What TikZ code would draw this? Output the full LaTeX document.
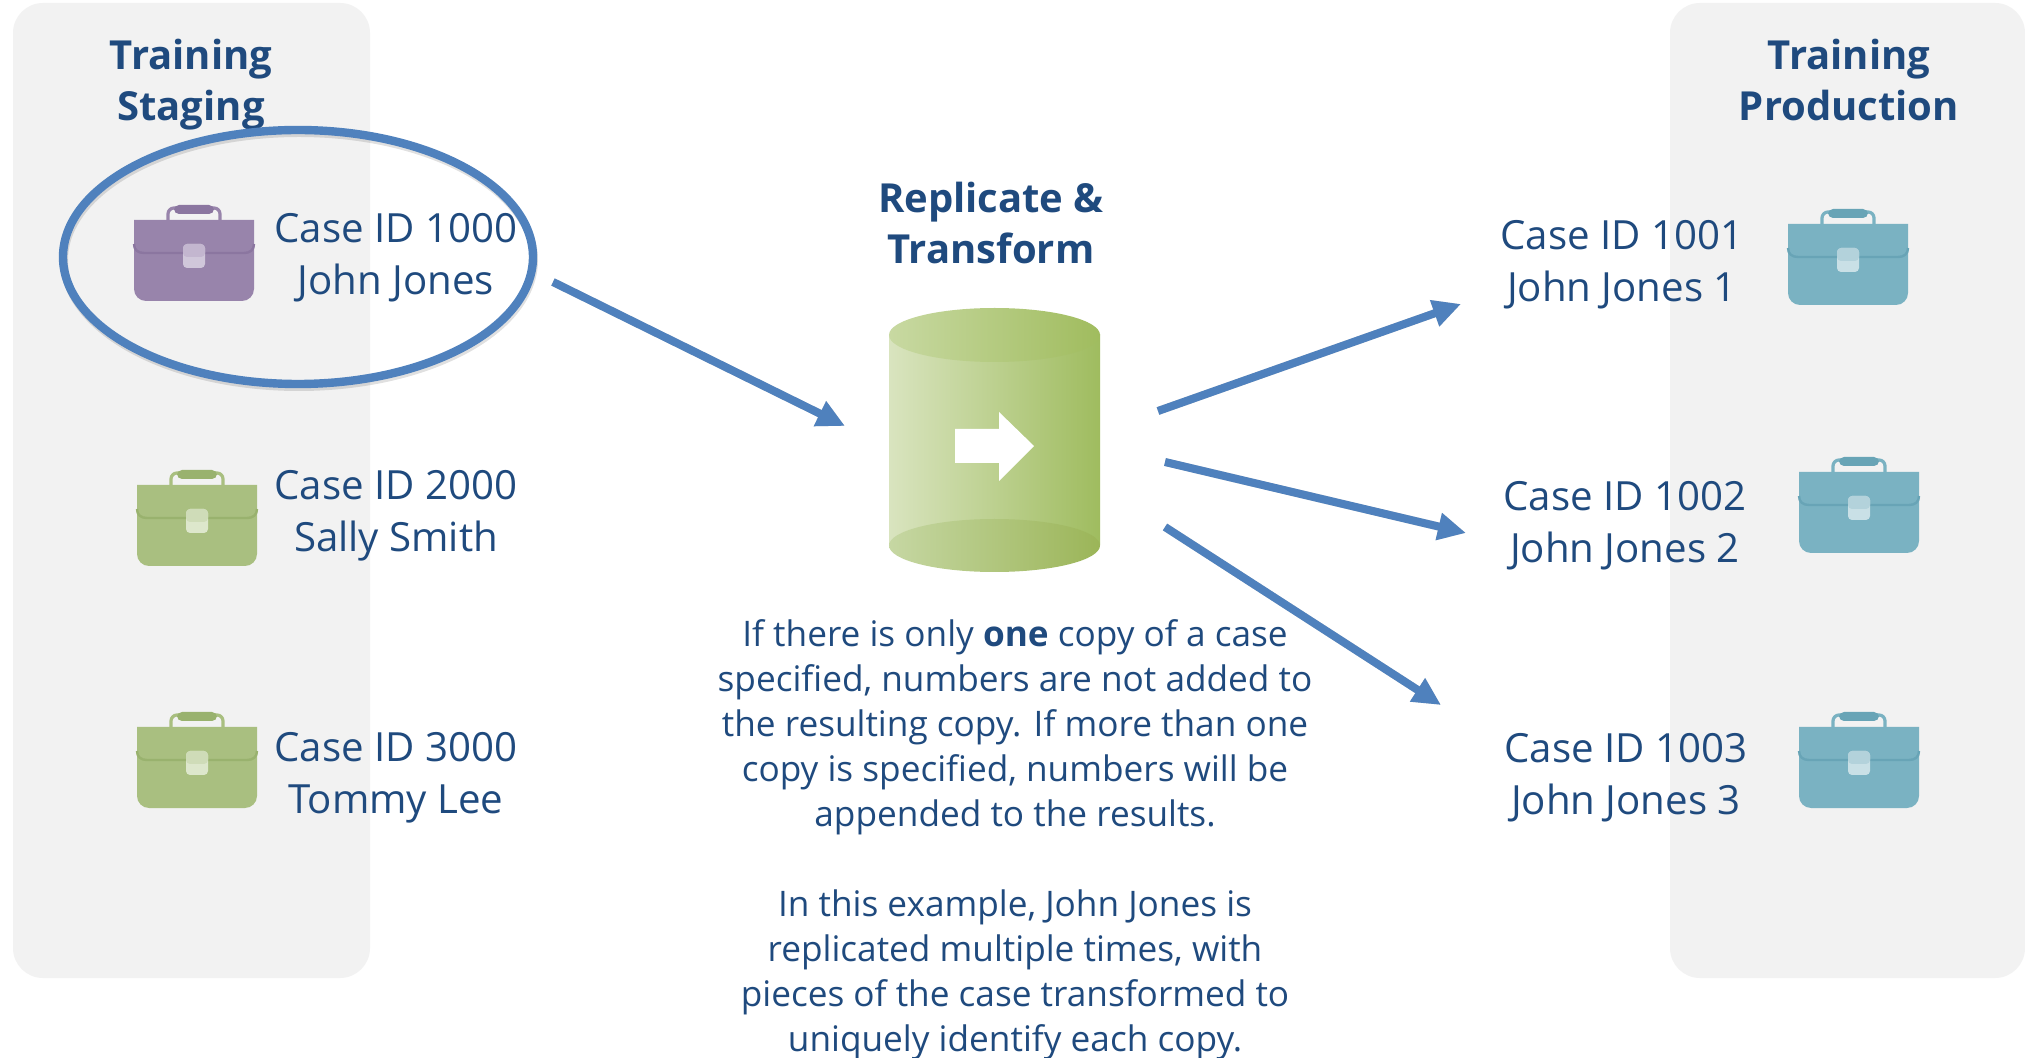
\documentclass[tikz,border=0pt]{standalone}
\usepackage{fontspec}
\setmainfont{Open Sans}
\usetikzlibrary{arrows.meta,shapes.geometric}
\definecolor{txt}{HTML}{1F4A7E}
\definecolor{panel}{HTML}{F2F2F2}
\definecolor{lineblue}{HTML}{4F81BD}
\definecolor{cylA}{HTML}{D9E4BF}\definecolor{cylB}{HTML}{9FBC5F}
\definecolor{cylC}{HTML}{C8D9A2}\definecolor{cylD}{HTML}{A0BC5E}
\definecolor{cylE}{HTML}{C6D7A3}\definecolor{cylF}{HTML}{9BB558}
\definecolor{teal}{HTML}{7AB2C2}\definecolor{teald}{HTML}{68A4B6}\definecolor{tealx}{HTML}{B3D2DB}\definecolor{tealy}{HTML}{C9E0E6}
\definecolor{purp}{HTML}{9884AB}\definecolor{purpd}{HTML}{8B76A0}\definecolor{purpx}{HTML}{C3B6CF}\definecolor{purpy}{HTML}{D0C7DA}
\definecolor{gren}{HTML}{A9BF80}\definecolor{grend}{HTML}{99B26E}\definecolor{grenx}{HTML}{CFDCB8}\definecolor{greny}{HTML}{DDE7CC}
\tikzset{
  caselabel/.style={text=txt,align=center,inner sep=0pt,font=\fontsize{20.1}{25.8}\selectfont},
  headlabel/.style={text=txt,align=center,inner sep=0pt,font=\fontsize{20}{25.5}\selectfont\bfseries},
  bodylabel/.style={text=txt,align=center,inner sep=0pt,font=\fontsize{17.6}{22.5}\selectfont},
  panelbox/.style={fill=panel,rounded corners=15pt},
  flow/.style={line width=4pt,color=lineblue,-{Triangle[length=14pt,width=13pt]}},
  flowshade/.style={line width=4pt,color=black,opacity=.16,-{Triangle[length=14pt,width=13pt]}},
}
% x, y of the body's top-left corner; the colour-name stem
\newcommand{\briefcaseicon}[3]{%
  \begin{scope}[shift={(#1,#2)}]
    \draw[#3,line width=1.6pt,rounded corners=3pt] (34,0) -- (34,-12) -- (86,-12) -- (86,0);
    \fill[#3d,rounded corners=2.5pt] (40,-15) rectangle (80,-6);
    \fill[#3] (0,0) -- (120,0) [rounded corners=6pt] -- (120,81) -- (0,81) [sharp corners] -- cycle;
    \draw[#3d,line width=1.2pt] (0,24) .. controls (0,30) and (4,33) .. (10,33) -- (110,33) .. controls (116,33) and (120,30) .. (120,24);
    \fill[#3y,rounded corners=2pt] (49,24) rectangle (71,48);
    \fill[#3x,rounded corners=2pt] (49,24) rectangle (71,37);
  \end{scope}}
\begin{document}
\begin{tikzpicture}[x=0.5pt,y=-0.5pt]
\useasboundingbox (0,0) rectangle (2025,1058);
\clip (0,0) rectangle (2025,1058);
\fill[white] (0,0) rectangle (2025,1058);
\fill[panelbox] (13,3) rectangle (370,978);
\fill[panelbox] (1670,3) rectangle (2025,978);

\node[headlabel] (tstaging) at (191,85) {Training\\Staging};
\node[headlabel] (tprod) at (1849,80) {Training\\Production};
\node[headlabel] (replicate) at (991,223) {Replicate \&\\Transform};

\briefcaseicon{134}{220}{purp}
\briefcaseicon{137}{485}{gren}
\briefcaseicon{137}{727}{gren}
\briefcaseicon{1788}{224}{teal}
\briefcaseicon{1799}{472}{teal}
\briefcaseicon{1799}{727}{teal}

\node[caselabel] (c1000) at (396,258) {Case ID 1000\\John Jones};
\node[caselabel] (c2000) at (396,516) {Case ID 2000\\Sally Smith};
\node[caselabel] (c3000) at (396,778) {Case ID 3000\\Tommy Lee};
\node[caselabel] (c1001) at (1622,265) {Case ID 1001\\John Jones 1};
\node[caselabel] (c1002) at (1625,526) {Case ID 1002\\John Jones 2};
\node[caselabel] (c1003) at (1626,778) {Case ID 1003\\John Jones 3};

% highlight ring
\node[ellipse,draw=black,opacity=.12,line width=4pt,minimum width=235pt,minimum height=127pt,inner sep=0pt] (ringshade) at (299,260) {};
\node[ellipse,draw=lineblue,line width=4.2pt,minimum width=235pt,minimum height=127pt,inner sep=0pt] (ring) at (298,257) {};

% cylinder
\shade[left color=cylA,right color=cylB] (889,335) rectangle (1100,545);
\node[ellipse,minimum width=105.5pt,minimum height=27pt,inner sep=0pt,shade,left color=cylC,right color=cylD] (cyltop) at (994.5,335) {};
\node[ellipse,minimum width=105.5pt,minimum height=26.5pt,inner sep=0pt,shade,left color=cylE,right color=cylF] (cylbot) at (994.5,545.5) {};
\fill[white] (955,429) -- (999,429) -- (999,412) -- (1034,446) -- (999,481) -- (999,463) -- (955,463) -- cycle;

\node[bodylabel] (para) at (1015,840) {If there is only \textbf{one} copy of a case\\specified, numbers are not added to\\the resulting copy. If more than one\\copy is specified, numbers will be\\appended to the results.\\[22.5pt]In this example, John Jones is\\replicated multiple times, with\\pieces of the case transformed to\\uniquely identify each copy.};

\coordinate (a0) at (553,282); \coordinate (a1) at (845,426);
\coordinate (b0) at (1158,411); \coordinate (b1) at (1461,304);
\coordinate (c0) at (1165,462); \coordinate (c1) at (1466,533);
\coordinate (d0) at (1165,527); \coordinate (d1) at (1441,705);
\begin{scope}[shift={(1.5,4)}]
\draw[flowshade] (a0) -- (a1);
\draw[flowshade] (b0) -- (b1);
\draw[flowshade] (c0) -- (c1);
\draw[flowshade] (d0) -- (d1);
\end{scope}
\draw[flow] (a0) -- (a1);
\draw[flow] (b0) -- (b1);
\draw[flow] (c0) -- (c1);
\draw[flow] (d0) -- (d1);
\end{tikzpicture}
\end{document}
